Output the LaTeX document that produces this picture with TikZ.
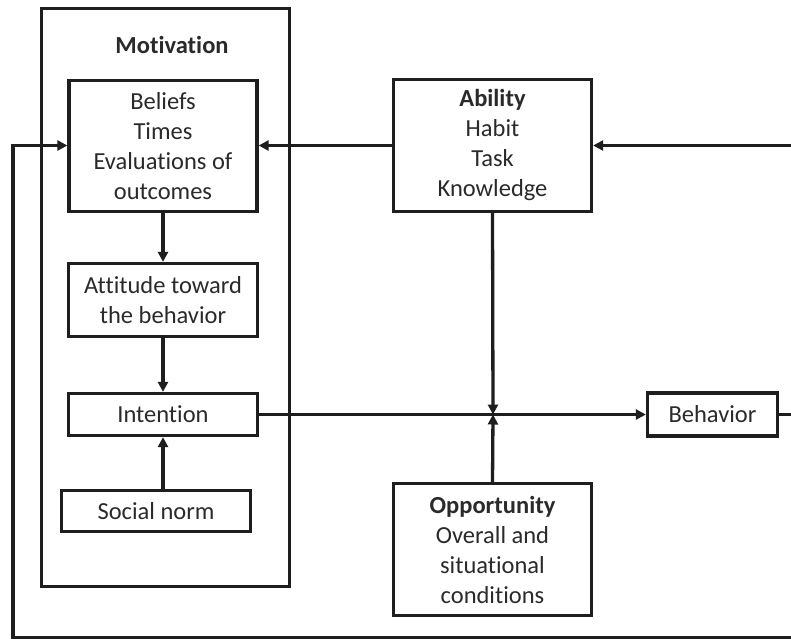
\documentclass[tikz,border=0pt]{standalone}
\usepackage{fontspec}
\setmainfont{Carlito}[Ligatures={NoCommon,NoContextual}]
\usetikzlibrary{arrows.meta}
\definecolor{ink}{HTML}{1E1E1E}
\definecolor{txt}{HTML}{2A2A2A}
\tikzset{
  box/.style={draw=ink, line width=3.3pt, align=center, inner sep=0pt,
    text=txt, font=\fontsize{24.5}{30}\selectfont},
  link/.style={draw=ink, line width=3.3pt, -{Triangle[length=10pt,width=10pt]}},
  plain/.style={draw=ink, line width=3.3pt}
}
\begin{document}
\begin{tikzpicture}[x=1pt,y=-1pt]
\useasboundingbox (0,0) rectangle (791,638);
\clip (0,0) rectangle (791,638);
\fill[white] (0,0) rectangle (791,638);

% Motivation frame and its title
\node[box, minimum width=248pt, minimum height=578pt] (mot) at (165.5,297.5) {};
\node[text=txt, font=\fontsize{24.5}{30}\selectfont\bfseries] (mottitle) at (172,45) {Motivation};

% boxes inside the motivation frame
\node[box, minimum width=188pt, minimum height=131pt] (beliefs) at (163,146)
  {Beliefs\\Times\\Evaluations of\\outcomes};
\node[box, minimum width=189pt, minimum height=73pt] (attitude) at (163,300)
  {Attitude toward\\the behavior};
\node[box, minimum width=189pt, minimum height=42pt] (intention) at (163,414.5)
  {Intention};
\node[box, minimum width=189pt, minimum height=41pt] (social) at (156,511)
  {Social norm};

% ability, opportunity, behavior
\node[box, minimum width=198pt, minimum height=132pt] (ability) at (492.5,145.5)
  {\textbf{Ability}\\Habit\\Task\\Knowledge};
\node[box, minimum width=198pt, minimum height=132pt] (opp) at (492.5,549.5)
  {\textbf{Opportunity}\\Overall and\\situational\\conditions};
\node[box, minimum width=130pt, minimum height=43pt] (behavior) at (712.5,414.5)
  {Behavior};

\coordinate (junc) at (493,414.5);
\coordinate (outR) at (800,414.5);
\coordinate (inR) at (800,145.5);
\coordinate (loopL) at (13,145.5);
\coordinate (loopBL) at (13,637.5);
\coordinate (loopBR) at (800,637.5);

% motivation chain
\draw[link] (beliefs.south) -- (attitude.north);
\draw[link] (attitude.south) -- (intention.north);
\draw[link] (social.north -| intention.south) -- (intention.south);

% intention to behavior, moderated by ability and opportunity
\draw[link] (intention.east) -- (behavior.west);
\draw[link] (ability.south) -- (junc);
\draw[link] (opp.north) -- (junc);

% ability feeds beliefs
\draw[link] (ability.west) -- (ability.west -| beliefs.east);

% feedback loop
\draw[plain] (behavior.east) -- (outR);
\draw[link] (inR) -- (ability.east);
\draw[link] (loopBR) -- (loopBL) -- (loopL) -- (loopL -| beliefs.west);
\end{tikzpicture}
\end{document}
